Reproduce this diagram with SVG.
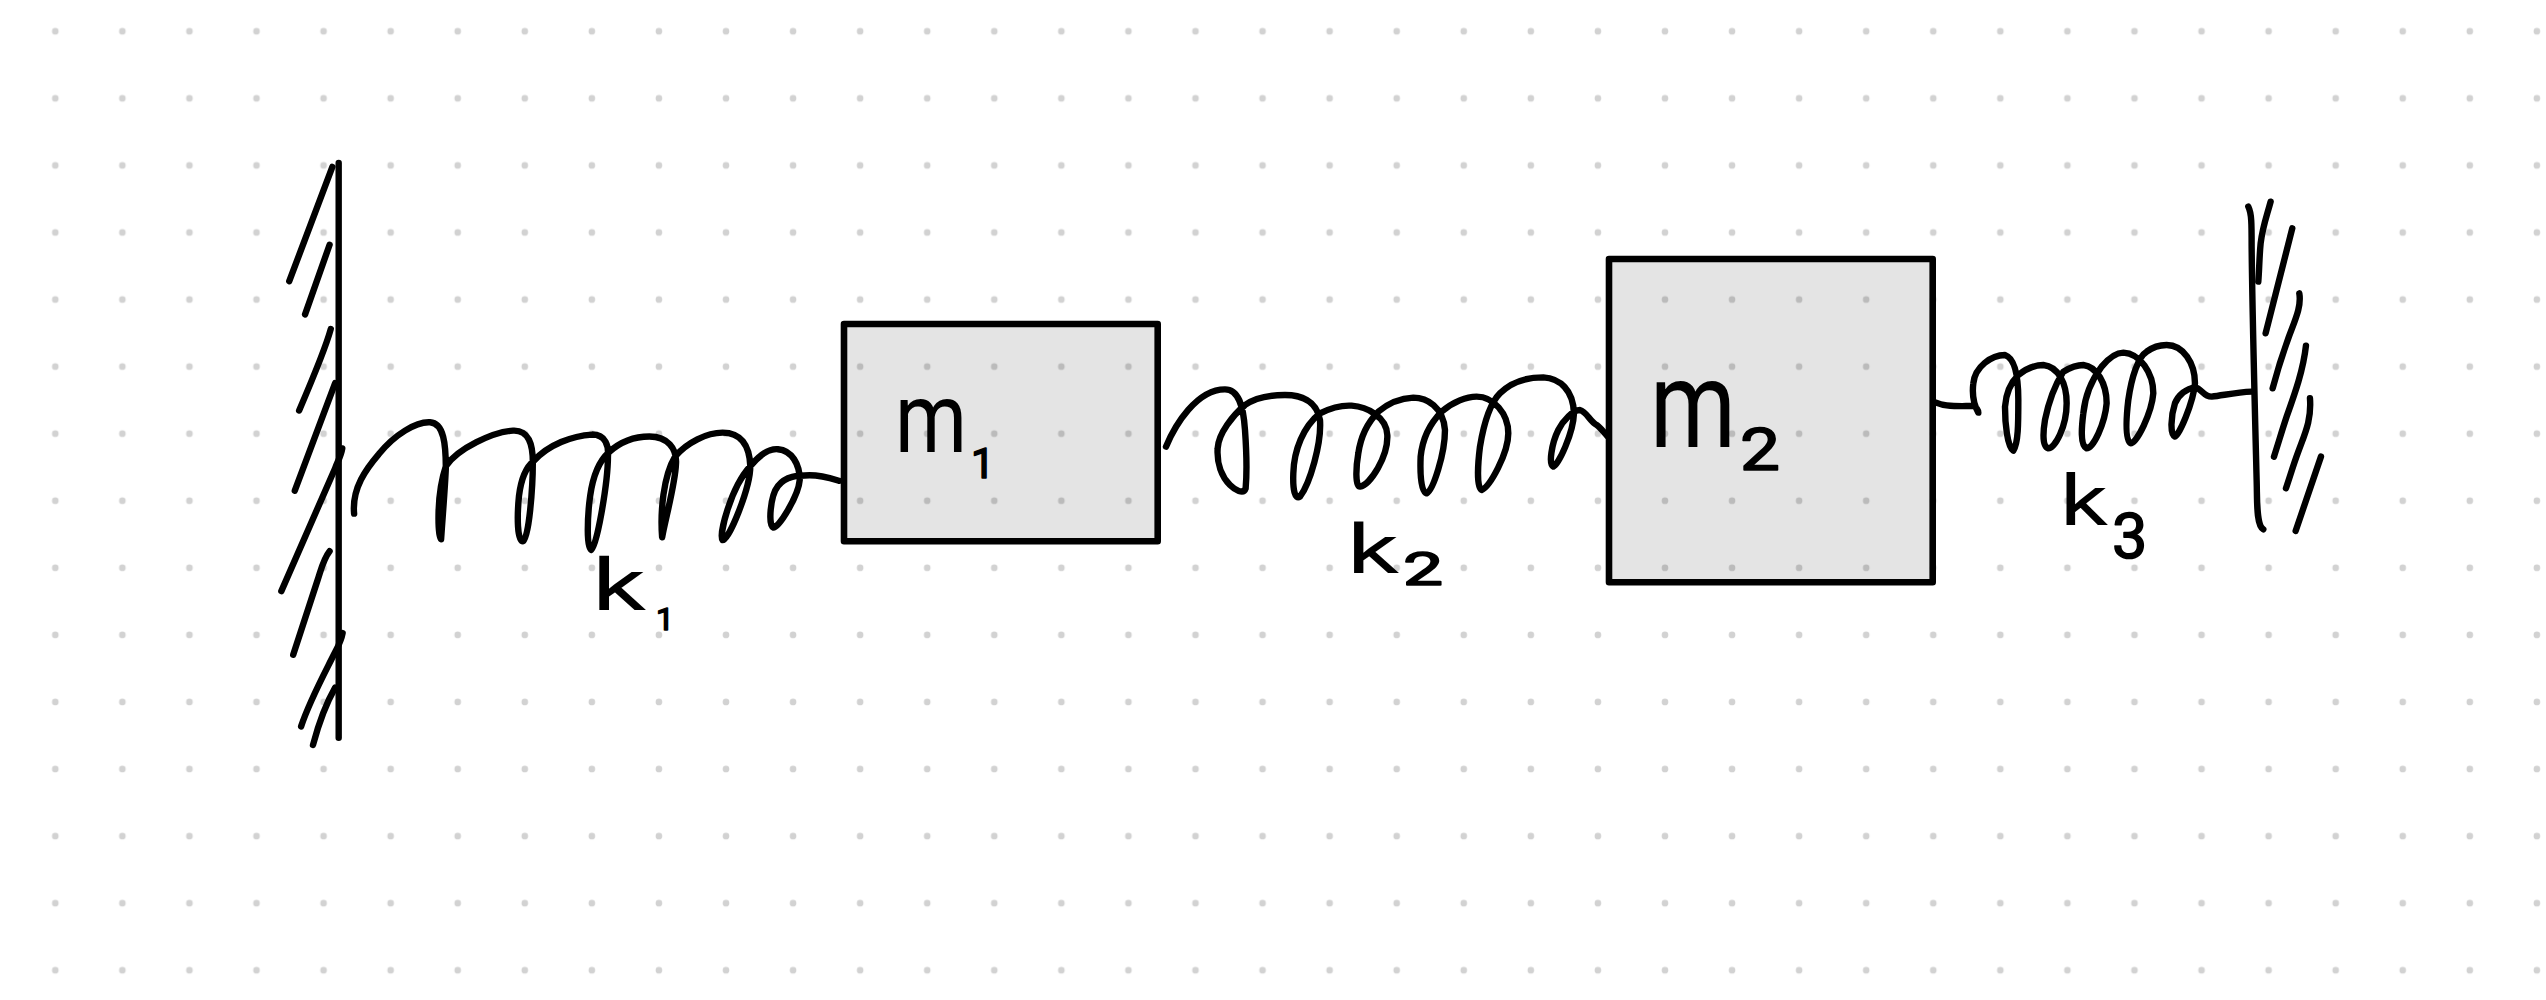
<svg xmlns="http://www.w3.org/2000/svg" width="2546" height="1000" viewBox="0 0 2546 1000">
<style>
.ink{fill:none;stroke:#000;stroke-width:6.4;stroke-linecap:round;stroke-linejoin:round;vector-effect:non-scaling-stroke}
.box{fill:#000;fill-opacity:.106}
.frame{fill:none;stroke:#000;stroke-width:6.6;stroke-linejoin:round}
.lbl{font-family:Roboto,"Liberation Sans",sans-serif;fill:#000}
.sub{stroke:#000;stroke-width:1.6;stroke-linejoin:round}
</style>
<defs>
<pattern id="dots" x="21.8" y="-2.2" width="67.07" height="67.07" patternUnits="userSpaceOnUse">
<circle cx="33.5" cy="33.5" r="3.3" fill="#d2d2d2"/>
</pattern>
</defs>
<rect width="2546" height="1000" fill="#fff"/>
<rect width="2546" height="1000" fill="url(#dots)"/>
<g id="wall-left" transform="translate(260 140) scale(.3954)">
<path class="ink" d="M199 58V1512"/>
<path class="ink" d="M183 68L74 357"/>
<path class="ink" d="M176 265L114 441"/>
<path class="ink" d="M179 478C165 530 135 600 99 684"/>
<path class="ink" d="M190 615L88 887"/>
<path class="ink" d="M208 780C205 800 195 815 190 830L54 1141"/>
<path class="ink" d="M176 1040C160 1060 155 1085 145 1115L84 1302"/>
<path class="ink" d="M209 1247C205 1270 195 1285 185 1305C160 1355 125 1420 104 1483"/>
<path class="ink" d="M190 1385C170 1420 150 1470 134 1530"/>
</g>
<g id="mass-1">
<rect class="box" x="844" y="324" width="313.7" height="217.3"/>
<rect class="frame" x="844" y="324" width="313.7" height="217.3"/>
<text class="lbl" x="895" y="452" font-size="98"><tspan textLength="72" lengthAdjust="spacingAndGlyphs">m</tspan><tspan class="sub" x="971" y="478" font-size="42">1</tspan></text>
</g>
<g id="mass-2">
<rect class="box" x="1609" y="259" width="323.7" height="323.3"/>
<rect class="frame" x="1609" y="259" width="323.7" height="323.3"/>
<text class="lbl" x="1650" y="447" font-size="123"><tspan textLength="86" lengthAdjust="spacingAndGlyphs">m</tspan><tspan class="sub" x="1740" y="470" font-size="60" textLength="40" lengthAdjust="spacingAndGlyphs">2</tspan></text>
</g>
<g id="wall-right" transform="translate(1920 180) scale(.3333)">
<path class="ink" d="M985 80C995 100 995 130 995 200C997 400 1005 700 1010 900C1012 960 1008 1035 1030 1048"/>
<path class="ink" d="M1052 65C1040 110 1028 140 1022 190C1018 230 1018 270 1015 305"/>
<path class="ink" d="M1117 145L1037 460"/>
<path class="ink" d="M1138 340C1145 380 1125 420 1105 475C1085 530 1070 580 1058 625"/>
<path class="ink" d="M1158 497C1150 570 1125 640 1100 710C1085 755 1075 790 1062 830"/>
<path class="ink" d="M1170 655C1175 720 1155 760 1135 815C1120 855 1110 890 1098 925"/>
<path class="ink" d="M1203 830L1127 1053"/>
</g>
<g id="connectors">
<g id="spring-1" transform="translate(260 140) scale(.3954)">
<path class="ink" d="M238 945C232 880 270 830 300 795C340 745 395 712 430 714C465 716 470 770 470 830C468 880 462 950 458 1010C450 1000 445 900 470 825C500 780 590 738 640 735C680 733 690 770 690 815C690 880 680 1010 665 1015C650 1015 650 950 655 900C660 860 670 830 692 812C730 770 790 748 840 745C875 745 882 775 880 800C880 870 850 1035 838 1037C825 1035 828 950 835 900C842 850 860 810 882 790C915 760 950 750 985 750C1030 750 1055 780 1052 820C1050 870 1025 960 1017 1005C1012 940 1020 850 1050 800C1080 765 1130 740 1170 740C1215 740 1238 770 1240 825C1240 880 1185 1015 1170 1012C1160 1000 1190 880 1240 825C1265 795 1290 780 1310 782C1345 785 1365 820 1365 860C1362 900 1310 985 1298 980C1285 975 1290 900 1310 875C1330 850 1360 848 1390 848C1420 848 1445 856 1465 862"/>
</g>
<g id="spring-2" transform="translate(1150 350) scale(.3333)">
<path class="ink" d="M48 290C75 225 140 118 225 118C265 118 280 165 285 240C290 310 290 380 287 415C280 435 255 420 240 405C215 380 200 340 203 295C205 250 250 195 285 165C320 140 370 135 405 135C450 135 500 150 510 210C515 280 480 400 450 440C435 450 428 420 430 370C432 300 460 230 510 190C540 175 570 165 605 167C650 170 710 200 712 255C715 320 660 405 630 410C615 410 618 350 625 310C632 260 650 220 685 185C715 160 750 145 790 143C830 143 880 170 885 240C885 310 850 420 830 430C812 425 810 370 812 320C818 260 840 220 875 185C910 155 950 140 980 140C1030 140 1075 190 1075 250C1075 310 1020 410 995 420C978 415 985 330 990 290C1000 230 1020 160 1050 130C1085 95 1130 82 1180 82C1230 85 1270 120 1272 190C1270 250 1225 345 1210 350C1195 345 1205 280 1225 240C1240 210 1270 180 1290 180C1310 185 1320 215 1340 225C1350 232 1360 245 1372 258"/>
</g>
<g id="spring-3" transform="translate(1920 180) scale(.3333)">
<path class="ink" d="M48 668C80 682 120 678 160 678C168 680 175 690 175 698C165 680 155 650 160 610C165 560 215 525 255 525C285 535 295 590 295 660C295 730 295 790 280 812C262 800 255 730 255 680C258 640 270 610 295 585C320 565 345 555 370 555C415 560 440 610 440 670C440 740 405 805 385 805C365 800 370 750 375 720C385 670 405 615 430 575C455 560 470 555 490 555C530 560 560 610 560 670C555 730 520 805 500 805C480 795 485 740 490 700C495 650 515 600 545 560C570 530 590 518 610 518C660 520 700 580 700 640C695 700 650 790 632 790C615 780 618 720 625 660C635 590 655 530 680 515C700 500 720 495 740 495C790 495 825 550 825 610C820 670 775 770 765 770C750 765 752 710 765 670C775 645 800 625 825 622C845 625 850 650 875 650C915 645 950 637 995 635"/>
</g>
</g>
<g id="label-k1">
<text class="lbl" x="592" y="610" font-size="72"><tspan textLength="54" lengthAdjust="spacingAndGlyphs">k</tspan><tspan class="sub" x="656" y="630" font-size="32">1</tspan></text>
</g>
<g id="label-k2">
<text class="lbl" x="1347" y="573" font-size="68"><tspan textLength="52" lengthAdjust="spacingAndGlyphs">k</tspan><tspan class="sub" x="1403" y="585" font-size="46" textLength="40" lengthAdjust="spacingAndGlyphs">2</tspan></text>
</g>
<g id="label-k3">
<text class="lbl" x="2060" y="525" font-size="70"><tspan textLength="48" lengthAdjust="spacingAndGlyphs">k</tspan><tspan class="sub" x="2112" y="558" font-size="63">3</tspan></text>
</g>
</svg>
